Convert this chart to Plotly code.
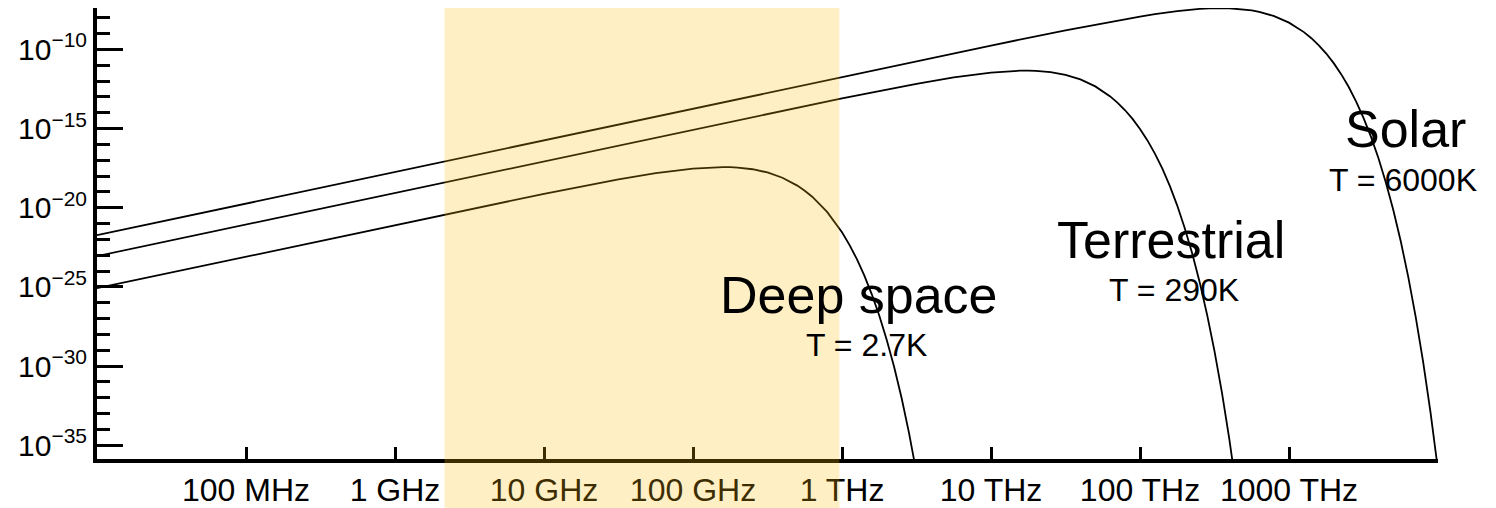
import plotly.graph_objects as go

# ---- data (frequency in Hz, spectral radiance) ----
deep_freq = [1e7, 1e8, 1e9, 1e10, 3.162e10, 5.623e10, 1e11, 1.259e11, 1.585e11, 1.778e11,
             1.995e11, 2.512e11, 3.162e11, 3.981e11, 5.012e11, 5.623e11, 6.310e11, 7.943e11,
             1e12, 1.122e12, 1.259e12, 1.413e12, 1.585e12, 1.778e12, 1.995e12, 2.239e12,
             2.512e12, 2.818e12, 3.162e12]
deep_rad = [8.30e-26, 8.29e-24, 8.22e-22, 7.58e-20, 6.18e-19, 1.53e-18, 3.00e-18, 3.51e-18,
            3.73e-18, 3.67e-18, 3.48e-18, 2.72e-18, 1.70e-18, 7.86e-19, 2.51e-19, 1.20e-19,
            4.99e-20, 5.46e-21, 2.82e-22, 4.55e-23, 5.64e-24, 5.20e-25, 3.42e-26, 1.55e-27,
            4.64e-29, 8.66e-31, 9.54e-33, 5.80e-35, 1.81e-37]

terr_freq = [1e7, 1e8, 1e9, 1e10, 1e11, 1e12, 3.162e12, 5.623e12, 1e13, 1.259e13, 1.585e13,
             1.778e13, 1.995e13, 2.512e13, 3.162e13, 3.981e13, 5.012e13, 6.310e13, 7.079e13,
             7.943e13, 8.913e13, 1e14, 1.122e14, 1.259e14, 1.413e14, 1.585e14, 1.778e14,
             1.995e14, 2.239e14, 2.512e14, 2.818e14, 3.162e14, 3.548e14, 3.981e14, 4.467e14]
terr_rad = [8.91e-24, 8.91e-22, 8.91e-20, 8.90e-18, 8.84e-16, 8.19e-14, 6.78e-13, 1.71e-12,
            3.48e-12, 4.18e-12, 4.60e-12, 4.61e-12, 4.48e-12, 3.72e-12, 2.50e-12, 1.28e-12,
            4.64e-13, 1.08e-13, 4.27e-14, 1.45e-14, 4.11e-15, 9.59e-16, 1.80e-16, 2.64e-17,
            2.94e-18, 2.39e-19, 1.38e-20, 5.35e-22, 1.35e-23, 2.07e-25, 1.83e-27, 8.74e-30,
            2.09e-32, 2.27e-35, 1.04e-38]

solar_freq = [1e7, 1e8, 1e9, 1e10, 1e11, 1e12, 1e13, 3.162e13, 5.623e13, 1e14, 1.259e14,
              1.778e14, 2.512e14, 3.162e14, 3.981e14, 5.012e14, 5.623e14, 6.310e14, 7.943e14,
              1e15, 1.122e15, 1.259e15, 1.413e15, 1.585e15, 1.778e15, 1.995e15, 2.239e15,
              2.512e15, 2.818e15, 3.162e15, 3.548e15, 3.981e15, 4.467e15, 5.012e15, 5.623e15,
              6.310e15, 7.079e15, 7.943e15, 8.913e15, 1e16]
solar_rad = [1.84e-22, 1.84e-20, 1.84e-18, 1.84e-16, 1.84e-14, 1.84e-12, 1.77e-10, 1.62e-9,
             4.62e-9, 1.20e-8, 1.69e-8, 2.63e-8, 3.62e-8, 4.04e-8, 4.02e-8, 3.43e-8, 2.95e-8,
             2.40e-8, 1.29e-8, 4.95e-9, 2.64e-9, 1.25e-9, 5.15e-10, 1.83e-10, 5.51e-11,
             1.37e-11, 2.77e-12, 4.40e-13, 5.35e-14, 4.83e-15, 3.12e-16, 1.38e-17, 4.00e-19,
             7.24e-21, 7.67e-23, 4.48e-25, 1.34e-27, 1.89e-30, 1.15e-33, 2.71e-37]

x_tickvals = [1e8, 1e9, 1e10, 1e11, 1e12, 1e13, 1e14, 1e15, 1e16]
x_ticktext = ["100 MHz", "1 GHz", "10 GHz", "100 GHz", "1 THz", "10 THz", "100 THz", "1000 THz", ""]
y_tickvals = [1e-35, 1e-30, 1e-25, 1e-20, 1e-15, 1e-10]
y_ticktext = ["10<sup>\u221235</sup>", "10<sup>\u221230</sup>", "10<sup>\u221225</sup>",
              "10<sup>\u221220</sup>", "10<sup>\u221215</sup>", "10<sup>\u221210</sup>"]
y_minorvals = [10.0 ** (-k) for k in range(36, 7, -1)]

band_start, band_end = 2.15e9, 9.6e11

labels = [
    ("Solar", 15.78, -15.03, 52),
    ("T = 6000K", 15.767, -18.26, 32),
    ("Terrestrial", 14.21, -22.05, 52),
    ("T = 290K", 14.225, -25.21, 32),
    ("Deep space", 12.116, -25.52, 52),
    ("T = 2.7K", 12.163, -28.68, 32),
]

fig = go.Figure()
for fx, fy in [(deep_freq, deep_rad), (terr_freq, terr_rad), (solar_freq, solar_rad)]:
    fig.add_trace(go.Scatter(x=fx, y=fy, mode="lines",
                             line=dict(color="black", width=1.8), hoverinfo="skip"))

fig.add_shape(type="rect", xref="x", yref="paper", x0=band_start, x1=band_end,
              y0=-0.12, y1=1.01, fillcolor="rgb(255,190,10)", opacity=0.24,
              line_width=0, layer="above")

for text, lx, ly, size in labels:
    fig.add_annotation(x=lx, y=ly, xref="x", yref="y", text=text, showarrow=False,
                       font=dict(size=size, color="black"), xanchor="center", yanchor="middle")

fig.update_layout(
    width=1488, height=500,
    margin=dict(l=89, r=58, t=0, b=49),
    plot_bgcolor="white", paper_bgcolor="white",
    showlegend=False,
    font=dict(family="Liberation Sans, Arial, sans-serif", color="black"),
)
fig.update_xaxes(type="log", range=[7, 16], tickvals=x_tickvals, ticktext=x_ticktext,
                 ticks="inside", ticklen=12, tickwidth=3, tickcolor="black",
                 showline=True, linewidth=4, linecolor="black",
                 showgrid=False, zeroline=False, tickfont=dict(size=32))
fig.update_yaxes(type="log", range=[-35.87, -7.38], tickvals=y_tickvals, ticktext=y_ticktext,
                 ticks="inside", ticklen=26, tickwidth=3, tickcolor="black",
                 showline=True, linewidth=4, linecolor="black",
                 showgrid=False, zeroline=False, tickfont=dict(size=30),
                 minor=dict(tickvals=y_minorvals, ticks="inside", ticklen=13,
                            tickwidth=3, tickcolor="black", showgrid=False))

fig.write_html("out.html")
